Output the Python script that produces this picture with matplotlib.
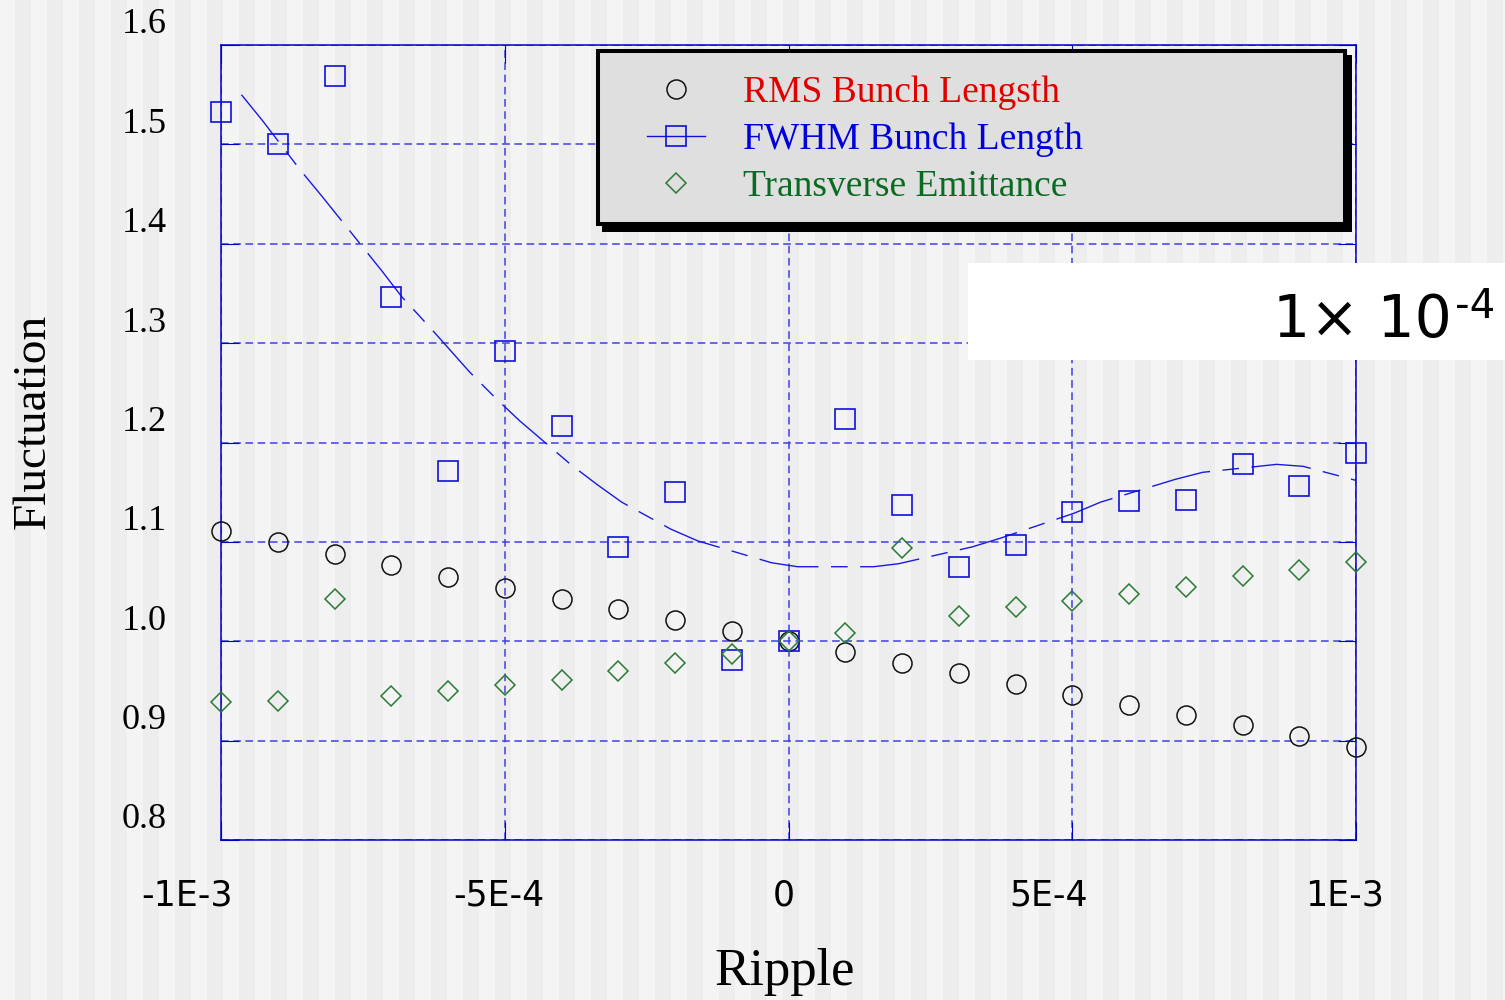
import matplotlib.pyplot as plt
from matplotlib.patches import Rectangle
from matplotlib.lines import Line2D
from matplotlib.transforms import ScaledTranslation

# dados
ripple = [-1.0e-3, -9e-4, -8e-4, -7e-4, -6e-4, -5e-4, -4e-4, -3e-4, -2e-4, -1e-4, 0.0,
          1e-4, 2e-4, 3e-4, 4e-4, 5e-4, 6e-4, 7e-4, 8e-4, 9e-4, 1.0e-3]
rms = [1.111, 1.100, 1.088, 1.077, 1.065, 1.054, 1.043, 1.032, 1.021, 1.010, 1.000,
       0.989, 0.978, 0.968, 0.957, 0.946, 0.936, 0.926, 0.916, 0.905, 0.894]
fwhm = [1.533, 1.500, 1.569, 1.346, 1.171, 1.292, 1.217, 1.095, 1.150, 0.981, 1.000,
        1.224, 1.137, 1.075, 1.097, 1.130, 1.141, 1.142, 1.178, 1.156, 1.189]
emit = [0.939, 0.940, 1.043, 0.945, 0.950, 0.956, 0.961, 0.970, 0.978, 0.987, 1.000,
        1.008, 1.094, 1.025, 1.034, 1.040, 1.048, 1.055, 1.066, 1.072, 1.080]

# curva ajustada (tracejada) do FWHM
fit_x = [-9.64e-4, -9.27e-4, -8.60e-4, -8.21e-4, -7.17e-4, -6.82e-4, -6.29e-4, -5.62e-4,
         -5.15e-4, -4.74e-4, -3.84e-4, -3.38e-4, -2.94e-4, -2.08e-4, -1.60e-4, -0.30e-4,
         0.16e-4, 1.50e-4, 1.94e-4, 3.24e-4, 3.75e-4, 5.04e-4, 5.50e-4, 6.82e-4,
         7.30e-4, 8.60e-4, 9.07e-4, 9.99e-4]
fit_y = [1.550, 1.524, 1.474, 1.447, 1.373, 1.347, 1.314, 1.271,
         1.244, 1.222, 1.178, 1.158, 1.140, 1.113, 1.101, 1.079,
         1.075, 1.075, 1.078, 1.095, 1.104, 1.129, 1.140, 1.163,
         1.170, 1.178, 1.176, 1.162]

x_ticks = [-1e-3, -5e-4, 0, 5e-4, 1e-3]
x_ticklabels = ['-1E-3', '-5E-4', '0', '5E-4', '1E-3']
y_ticks = [0.8, 0.9, 1.0, 1.1, 1.2, 1.3, 1.4, 1.5, 1.6]
y_ticklabels = ['0.8', '0.9', '1.0', '1.1', '1.2', '1.3', '1.4', '1.5', '1.6']

labels = ['RMS Bunch Lengsth', 'FWHM Bunch Length', 'Transverse Emittance']
text_colors = ['#e00000', '#0000dd', '#0a6a22']

W, H = 1505, 1000
fig = plt.figure(figsize=(W / 100, H / 100), dpi=100, facecolor='#f4f4f4')

# listras verticais do fundo
for k in range(48):
    x0 = 15 + 32 * k
    fig.add_artist(Rectangle((x0 / W, 0), 16 / W, 1, transform=fig.transFigure,
                             facecolor='#ededed', edgecolor='none', zorder=-5))

ax = fig.add_axes([221 / W, 160 / H, 1135 / W, 795 / H])
ax.set_facecolor('none')
ax.set_xlim(-1e-3, 1e-3)
ax.set_ylim(0.8, 1.6)

ax.plot(fit_x, fit_y, color='#1a1ae0', lw=1.0, dashes=(43, 9, 12, 9), zorder=3)
l_rms, = ax.plot(ripple, rms, ls='none', marker='o', ms=13.7, mfc='none',
                 mec='#111111', mew=1.1, zorder=4, clip_on=False)
l_fwhm, = ax.plot(ripple, fwhm, ls='none', marker='s', ms=13.7, mfc='none',
                  mec='#1010dd', mew=1.2, zorder=4, clip_on=False)
l_emit, = ax.plot(ripple, emit, ls='none', marker='D', ms=9.7, mfc='none',
                  mec='#2a7a36', mew=1.1, zorder=4, clip_on=False)

ax.set_xticks(x_ticks)
ax.set_xticklabels(x_ticklabels, family='DejaVu Sans', fontsize=25)
ax.set_yticks(y_ticks)
ax.set_yticklabels(y_ticklabels, family='Liberation Serif', fontsize=26)
ax.tick_params(axis='x', direction='in', length=13, color='#0000cc', pad=28,
               top=True, bottom=True)
ax.tick_params(axis='y', direction='in', length=13, color='#0000cc', pad=39,
               left=True, right=True)
ax.grid(True, color='#3f3fe6', lw=1.1, linestyle=(0, (5, 3)))
ax.set_axisbelow(True)
for s in ax.spines.values():
    s.set_color('#0000cc')
    s.set_linewidth(1.1)

# deslocamento dos rotulos como no original
dx_px = [-34, -6, -5, -24, -11]
for lab, d in zip(ax.get_xticklabels(), dx_px):
    lab.set_transform(lab.get_transform() + ScaledTranslation(d / 100, 0, fig.dpi_scale_trans))
for lab in ax.get_yticklabels():
    lab.set_transform(lab.get_transform() + ScaledTranslation(0, 0.24, fig.dpi_scale_trans))

fig.text(33 / W, 1 - 421 / H, 'Fluctuation', rotation=90, ha='center', va='center',
         family='Liberation Serif', fontsize=34)
fig.text(785 / W, 1 - 985 / H, 'Ripple', ha='center', va='baseline',
         family='Liberation Serif', fontsize=38)

# caixa da legenda com sombra
ax.add_patch(Rectangle((602 / W, 1 - 232 / H), 750 / W, 177 / H, transform=fig.transFigure,
                       facecolor='black', edgecolor='none', zorder=6, clip_on=False))
ax.add_patch(Rectangle((598 / W, 1 - 224 / H), 747 / W, 173 / H, transform=fig.transFigure,
                       facecolor='#dfdfdf', edgecolor='black', lw=2.9, zorder=6.5,
                       clip_on=False))

h_fwhm = Line2D([], [], color='#1010dd', lw=1.0, marker='s', ms=13.7, mfc='none',
                mec='#1010dd', mew=1.2)
leg = ax.legend([l_rms, h_fwhm, l_emit], labels, loc='upper left',
                bbox_to_anchor=(647 / W, 1 - 76 / H), bbox_transform=fig.transFigure,
                frameon=False, prop={'family': 'Liberation Serif', 'size': 27},
                handlelength=1.55, handletextpad=1.0, labelspacing=0.33,
                borderpad=0, borderaxespad=0)
leg.set_zorder(7)
for t, c in zip(leg.get_texts(), text_colors):
    t.set_color(c)

# caixa branca com o fator de escala
fig.add_artist(Rectangle((968 / W, 1 - 360 / H), (W - 968) / W, 97 / H,
                         transform=fig.transFigure, facecolor='white',
                         edgecolor='none', zorder=10))
fig.text(1452 / W, 1 - 337 / H, '1\u00d7 10', ha='right', va='baseline',
         family='DejaVu Sans', fontsize=42, zorder=11)
fig.text(1455 / W, 1 - 318 / H, '-4', ha='left', va='baseline',
         family='DejaVu Sans', fontsize=29, zorder=11)

fig.savefig('out.png', dpi=100, facecolor=fig.get_facecolor())
